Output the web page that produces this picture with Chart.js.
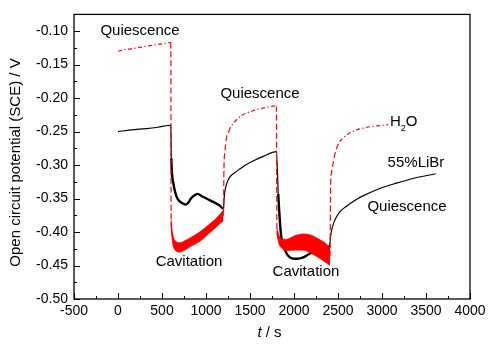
<!DOCTYPE html>
<html>
<head>
<meta charset="utf-8">
<title>Open circuit potential</title>
<script src="https://cdn.jsdelivr.net/npm/chart.js@4.4.1/dist/chart.umd.min.js"></script>
<style>
  html, body { margin: 0; padding: 0; background: #fff; }
  #wrap { width: 493px; height: 348px; }
</style>
</head>
<body>
<div id="wrap"><canvas id="ocpChart" width="493" height="348"></canvas></div>
<script>
// --- data: time (s) and potential (V vs SCE) ---
const h2oTime = [0, 60, 170, 350, 500, 600,
  604, 615, 650, 700, 760, 830, 928, 1042, 1120, 1195,
  1199, 1204, 1215, 1231, 1260, 1288, 1350, 1420, 1510, 1610, 1700, 1800,
  1806, 1830, 1860, 1914, 2000, 2102, 2200, 2300, 2368, 2410,
  2416, 2424, 2443, 2462, 2490, 2520, 2580, 2633, 2700, 2784, 2900, 2974, 3070];
const h2oValue = [-0.130, -0.128, -0.126, -0.122, -0.119, -0.117,
  -0.385, -0.404, -0.420, -0.423, -0.420, -0.4145, -0.407, -0.3945, -0.3855, -0.3755,
  -0.372, -0.305, -0.280, -0.261, -0.249, -0.242, -0.232, -0.225, -0.220, -0.216, -0.2135, -0.2115,
  -0.398, -0.4115, -0.417, -0.4195, -0.4165, -0.415, -0.4185, -0.426, -0.432, -0.437,
  -0.330, -0.313, -0.299, -0.285, -0.273, -0.265, -0.257, -0.252, -0.248, -0.245, -0.242, -0.241, -0.2395];

const libTime = [0, 150, 322, 450, 600,
  606, 615, 628, 645, 675, 733, 771, 800, 828, 870, 903, 960, 1020, 1083, 1150, 1200,
  1206, 1215, 1240, 1270, 1330, 1383, 1450, 1534, 1650, 1800,
  1821, 1841, 1857, 1898, 1955, 2030, 2106, 2182, 2258, 2333, 2403,
  2417, 2430, 2450, 2480, 2520, 2580, 2633, 2700, 2784, 2974, 3163, 3352, 3610];
const libValue = [-0.250, -0.2475, -0.2455, -0.2435, -0.2405,
  -0.290, -0.315, -0.326, -0.338, -0.350, -0.357, -0.359, -0.356, -0.350, -0.345, -0.343, -0.347, -0.351, -0.355, -0.360, -0.365,
  -0.350, -0.339, -0.326, -0.318, -0.311, -0.306, -0.300, -0.294, -0.287, -0.280,
  -0.343, -0.386, -0.409, -0.427, -0.438, -0.440, -0.438, -0.432, -0.428, -0.425, -0.421,
  -0.405, -0.396, -0.387, -0.378, -0.370, -0.363, -0.358, -0.352, -0.346, -0.335, -0.327, -0.320, -0.313];

// scatter of the H2O signal while cavitating (upper / lower edge)
const cav1Time = [604, 615, 650, 700, 760, 830, 928, 1042, 1120, 1195];
const cav1Upper = [-0.382, -0.398, -0.413, -0.416, -0.413, -0.408, -0.400, -0.388, -0.379, -0.368];
const cav1Lower = [-0.388, -0.410, -0.427, -0.430, -0.427, -0.421, -0.414, -0.401, -0.392, -0.383];
const cav2Time = [1806, 1830, 1860, 1914, 2000, 2102, 2200, 2300, 2368, 2410];
const cav2Upper = [-0.394, -0.405, -0.410, -0.411, -0.406, -0.403, -0.405, -0.412, -0.418, -0.424];
const cav2Lower = [-0.402, -0.418, -0.424, -0.428, -0.427, -0.427, -0.432, -0.440, -0.446, -0.450];

const cavitationPeriods = [[600, 1200], [1800, 2410]];

const xTickValues = [-500, 0, 500, 1000, 1500, 2000, 2500, 3000, 3500, 4000];
const yTickValues = [-0.50, -0.45, -0.40, -0.35, -0.30, -0.25, -0.20, -0.15, -0.10];

const FONT = "'Liberation Sans', Arial, Helvetica, sans-serif";

// text placed in data coordinates
const notes = [
  { text: 'Quiescence', x: 250, y: -0.099 },
  { text: 'Quiescence', x: 1614, y: -0.193 },
  { text: '55%LiBr', x: 3386, y: -0.296 },
  { text: 'Quiescence', x: 3284, y: -0.363 },
  { text: 'Cavitation', x: 807, y: -0.445 },
  { text: 'Cavitation', x: 2136, y: -0.460 }
];

const toPoints = (xs, ys) => xs.map((t, i) => ({ x: t, y: ys[i] }));

function duringCavitation(c) {
  const a = c.p0.parsed.x, b = c.p1.parsed.x;
  return cavitationPeriods.some(p => a > p[0] && b <= p[1]);
}

const bandStyle = {
  borderColor: '#ff0000',
  backgroundColor: '#ff0000',
  borderWidth: 0.8,
  pointRadius: 0,
  cubicInterpolationMode: 'monotone'
};

const frame = {
  id: 'frame',
  afterDraw(chart) {
    const { ctx, chartArea: a, scales: { x, y } } = chart;
    ctx.save();
    ctx.strokeStyle = '#000';
    ctx.lineWidth = 1.3;
    ctx.strokeRect(a.left, a.top, a.right - a.left, a.bottom - a.top);

    // inward ticks, minor ones halfway
    ctx.lineWidth = 1;
    ctx.beginPath();
    xTickValues.forEach((v, i) => {
      const px = Math.round(x.getPixelForValue(v)) + 0.5;
      ctx.moveTo(px, a.bottom); ctx.lineTo(px, a.bottom - 6);
      if (i < xTickValues.length - 1) {
        const m = Math.round(x.getPixelForValue((v + xTickValues[i + 1]) / 2)) + 0.5;
        ctx.moveTo(m, a.bottom); ctx.lineTo(m, a.bottom - 3);
      }
    });
    yTickValues.forEach((v, i) => {
      const py = Math.round(y.getPixelForValue(v)) + 0.5;
      ctx.moveTo(a.left, py); ctx.lineTo(a.left + 6, py);
      if (i < yTickValues.length - 1) {
        const m = Math.round(y.getPixelForValue((v + yTickValues[i + 1]) / 2)) + 0.5;
        ctx.moveTo(a.left, m); ctx.lineTo(a.left + 3, m);
      }
    });
    ctx.stroke();

    ctx.fillStyle = '#000';
    ctx.textBaseline = 'middle';

    // annotations
    ctx.font = '15px ' + FONT;
    ctx.textAlign = 'center';
    notes.forEach(n => ctx.fillText(n.text, x.getPixelForValue(n.x), y.getPixelForValue(n.y)));

    // H2O with subscript
    ctx.textAlign = 'left';
    let hx = x.getPixelForValue(3091);
    const hy = y.getPixelForValue(-0.2353);
    ctx.fillText('H', hx, hy);
    hx += ctx.measureText('H').width;
    ctx.font = '9px ' + FONT;
    ctx.fillText('2', hx, hy + 7);
    hx += ctx.measureText('2').width;
    ctx.font = '15px ' + FONT;
    ctx.fillText('O', hx, hy);

    // axis titles
    ctx.save();
    ctx.translate(16, 162.5);
    ctx.rotate(-Math.PI / 2);
    ctx.textAlign = 'center';
    ctx.fillText('Open circuit potential (SCE) / V', 0, 0);
    ctx.restore();

    ctx.font = 'italic 15px ' + FONT;
    const wT = ctx.measureText('t').width;
    ctx.font = '15px ' + FONT;
    const wRest = ctx.measureText(' / s').width;
    const tx = 269.5 - (wT + wRest) / 2;
    ctx.textAlign = 'left';
    ctx.font = 'italic 15px ' + FONT;
    ctx.fillText('t', tx, 333);
    ctx.font = '15px ' + FONT;
    ctx.fillText(' / s', tx + wT, 333);

    ctx.restore();
  }
};

new Chart(document.getElementById('ocpChart'), {
  type: 'line',
  data: {
    datasets: [
      { data: toPoints(cav1Time, cav1Upper), ...bandStyle, fill: false },
      { data: toPoints(cav1Time, cav1Lower), ...bandStyle, fill: '-1' },
      { data: toPoints(cav2Time, cav2Upper), ...bandStyle, fill: false },
      { data: toPoints(cav2Time, cav2Lower), ...bandStyle, fill: '-1' },
      {
        label: 'H2O',
        data: toPoints(h2oTime, h2oValue),
        borderColor: '#ff0000',
        borderWidth: 1.2,
        pointRadius: 0,
        fill: false,
        cubicInterpolationMode: 'monotone',
        segment: {
          borderDash: c => {
            if (duringCavitation(c)) return [];
            const dx = Math.abs(c.p1.x - c.p0.x), dy = Math.abs(c.p1.y - c.p0.y);
            return dy > 2 * dx ? [6, 3] : [4, 2.5, 1.2, 2.5];
          }
        }
      },
      {
        label: '55%LiBr',
        data: toPoints(libTime, libValue),
        borderColor: '#000000',
        borderWidth: 1.2,
        pointRadius: 0,
        fill: false,
        cubicInterpolationMode: 'monotone',
        segment: {
          borderWidth: c => duringCavitation(c) ? 2.4 : 1.2
        }
      }
    ]
  },
  options: {
    responsive: false,
    animation: false,
    events: [],
    layout: { padding: { top: 4, right: 23, left: 0, bottom: 0 } },
    plugins: {
      legend: { display: false },
      tooltip: { enabled: false }
    },
    scales: {
      x: {
        type: 'linear',
        min: -500,
        max: 4000,
        grid: { display: false, drawTicks: false },
        border: { display: false },
        afterBuildTicks: s => { s.ticks = xTickValues.map(v => ({ value: v })); },
        afterFit: s => { s.height = 49; },
        ticks: {
          padding: 4,
          maxRotation: 0,
          autoSkip: false,
          color: '#000',
          font: { family: FONT, size: 14 },
          callback: v => String(v)
        }
      },
      y: {
        type: 'linear',
        min: -0.50,
        max: -0.075,
        grid: { display: false, drawTicks: false },
        border: { display: false },
        afterBuildTicks: s => { s.ticks = yTickValues.map(v => ({ value: v })); },
        afterFit: s => { s.width = 74; },
        ticks: {
          padding: 6,
          autoSkip: false,
          color: '#000',
          font: { family: FONT, size: 14 },
          callback: v => v.toFixed(2)
        }
      }
    }
  },
  plugins: [frame]
});
</script>
</body>
</html>
